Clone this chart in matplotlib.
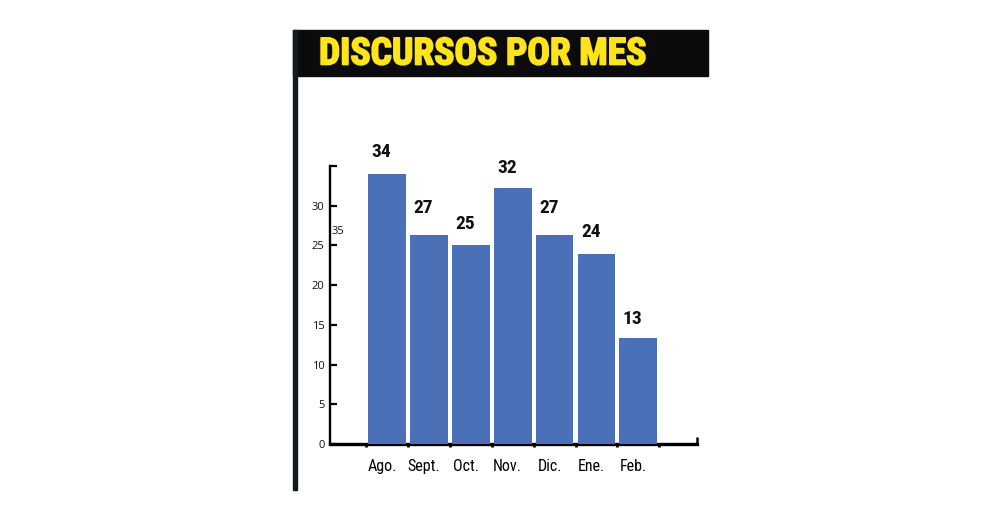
import matplotlib.pyplot as plt
from matplotlib.patches import Rectangle
from matplotlib.transforms import ScaledTranslation
import matplotlib.patheffects as pe

months = ['Ago.', 'Sept.', 'Oct.', 'Nov.', 'Dic.', 'Ene.', 'Feb.']
counts = [34, 27, 25, 32, 27, 24, 13]
# bars in the original are drawn slightly off the printed numbers
bar_heights = [34, 26.3, 25, 32.2, 26.3, 23.9, 13.4]
yticks = [0, 5, 10, 15, 20, 25, 30, 35]
ytick_labels = ['0', '5', '10', '15', '20', '25', '30', '']

narrow = ['Roboto Condensed', 'DejaVu Sans']
plain = ['Open Sans', 'DejaVu Sans']
BLUE = '#4a70b7'
YELLOW = '#ffe41a'

fig = plt.figure(figsize=(10, 5.3), dpi=100, facecolor='white')

# title band and the dark rule running down the left side
fig.patches.append(Rectangle((293 / 1000, 1 - 76 / 530), 415 / 1000, 46 / 530,
                             transform=fig.transFigure, color='#0b0b0b', zorder=0))
fig.patches.append(Rectangle((293 / 1000, 1 - 490 / 530), 4 / 1000, 460 / 530,
                             transform=fig.transFigure, color='#141a22', zorder=0))
fig.text(319 / 1000, 1 - 54 / 530, 'DISCURSOS POR MES', color=YELLOW,
         fontsize=27, fontweight='bold', family=narrow, va='center', ha='left',
         path_effects=[pe.withStroke(linewidth=1.2, foreground=YELLOW)])

ax = fig.add_axes([330 / 1000, 1 - 444 / 530, 367 / 1000, 278 / 530])
x = range(len(months))
ax.bar(x, bar_heights, width=0.9, color=BLUE, zorder=3)

for i, c in enumerate(counts):
    ax.annotate(str(c), (i, c), xytext=(-4, 9), textcoords='offset points',
                ha='center', va='bottom', fontsize=14, fontweight='bold',
                family=narrow, color='#111111')

ax.set_xlim(-1.36, 7.40)
ax.set_ylim(0, 35)

for s in ['top', 'right']:
    ax.spines[s].set_visible(False)
ax.spines['left'].set_linewidth(1.7)
ax.spines['bottom'].set_linewidth(2.4)

ax.set_yticks(yticks)
ax.set_yticklabels(ytick_labels)
ax.tick_params(axis='y', direction='in', length=5, width=1.6, pad=4,
               labelsize=8, labelcolor='#111111')
for t in ax.get_yticklabels():
    t.set_family(plain)

# the stray "35" sitting next to the axis in the original
ax.text(0.005, 26.8, '35', transform=ax.get_yaxis_transform(), fontsize=8,
        family=plain, color='#111111', va='center', ha='left')

ax.set_xticks(list(x))
ax.set_xticklabels(months)
ax.tick_params(axis='x', length=0, pad=11, labelsize=11.5)
shift = ScaledTranslation(-5 / 100, 0, fig.dpi_scale_trans)
for t in ax.get_xticklabels():
    t.set_family(narrow)
    t.set_transform(t.get_transform() + shift)
ax.set_xticks([i + 0.5 for i in range(-1, len(months))], minor=True)
ax.tick_params(axis='x', which='minor', direction='out', length=2, width=2)

# little upturn at the right end of the baseline
ax.plot([1, 1], [0, 0.025], transform=ax.transAxes, color='black', lw=1.8,
        clip_on=False, solid_capstyle='butt')

fig.savefig('out.png', dpi=100, facecolor='white')
